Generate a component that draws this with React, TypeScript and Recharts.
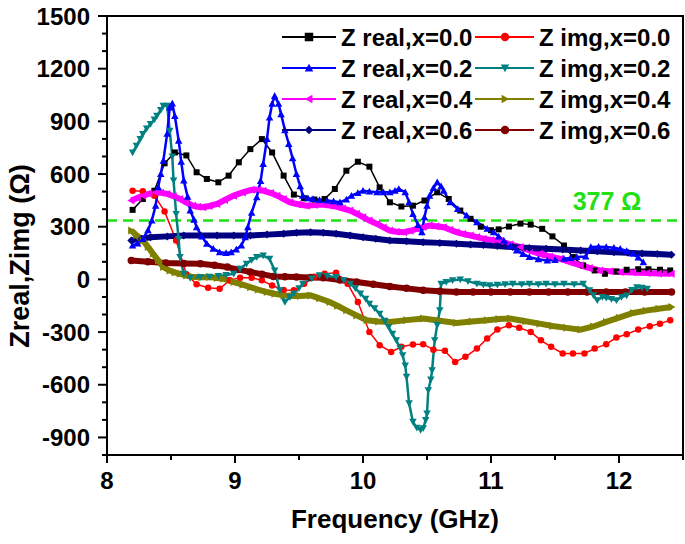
import React from 'react';
import { LineChart, Line, XAxis, YAxis, ReferenceLine, ReferenceArea } from 'recharts';

// ---------- data ----------
const zReal00Freq = [8.20, 8.28, 8.37, 8.45, 8.53, 8.62, 8.70, 8.78, 8.87, 8.95, 9.03, 9.12, 9.21, 9.29, 9.38, 9.46, 9.54, 9.62, 9.70, 9.78, 9.87, 9.96, 10.05, 10.13, 10.21, 10.30, 10.39, 10.48, 10.58, 10.67, 10.76, 10.84, 10.92, 11.00, 11.06, 11.14, 11.23, 11.31, 11.40, 11.48, 11.57, 11.64, 11.72, 11.81, 11.89, 11.98, 12.06, 12.15, 12.23, 12.32, 12.40];
const zReal00Val = [396, 458, 505, 661, 723, 706, 610, 572, 553, 591, 667, 742, 799, 723, 591, 483, 462, 455, 458, 515, 619, 670, 642, 524, 439, 415, 420, 449, 496, 458, 392, 345, 300, 280, 285, 301, 318, 312, 288, 245, 193, 127, 80, 51, 32, 45, 55, 58, 58, 55, 51];

const zImg00Freq = [8.20, 8.28, 8.37, 8.45, 8.54, 8.62, 8.70, 8.79, 8.88, 8.96, 9.04, 9.13, 9.21, 9.29, 9.38, 9.46, 9.54, 9.62, 9.70, 9.79, 9.88, 9.96, 10.05, 10.13, 10.22, 10.30, 10.39, 10.47, 10.55, 10.64, 10.72, 10.80, 10.89, 10.97, 11.05, 11.14, 11.22, 11.31, 11.39, 11.47, 11.56, 11.64, 11.73, 11.81, 11.90, 11.98, 12.06, 12.15, 12.24, 12.32, 12.40];
const zImg00Val = [505, 502, 477, 387, 222, 30, -28, -47, -53, -5, 10, 10, -5, -35, -60, -62, -25, 15, 32, 38, -25, -129, -299, -375, -413, -384, -371, -369, -400, -407, -470, -441, -394, -337, -286, -261, -275, -299, -347, -384, -422, -422, -422, -394, -369, -331, -312, -286, -267, -252, -233];

const zReal02Freq = [8.20, 8.24, 8.28, 8.32, 8.35, 8.38, 8.40, 8.42, 8.44, 8.47, 8.49, 8.51, 8.53, 8.56, 8.58, 8.60, 8.63, 8.65, 8.68, 8.70, 8.74, 8.78, 8.83, 8.88, 8.93, 8.97, 9.01, 9.05, 9.08, 9.10, 9.13, 9.17, 9.20, 9.22, 9.25, 9.27, 9.29, 9.31, 9.34, 9.36, 9.39, 9.42, 9.45, 9.48, 9.51, 9.53, 9.57, 9.61, 9.66, 9.72, 9.77, 9.82, 9.87, 9.91, 9.96, 10.00, 10.05, 10.11, 10.16, 10.21, 10.25, 10.28, 10.33, 10.36, 10.39, 10.43, 10.46, 10.48, 10.50, 10.52, 10.55, 10.58, 10.61, 10.63, 10.68, 10.74, 10.81, 10.89, 10.97, 11.02, 11.06, 11.10, 11.15, 11.20, 11.25, 11.30, 11.37, 11.44, 11.50, 11.57, 11.62, 11.67, 11.74, 11.78, 11.84, 11.90, 11.96, 12.01, 12.06, 12.11, 12.15, 12.19];
const zReal02Val = [193, 205, 230, 280, 335, 420, 525, 600, 676, 830, 979, 1002, 930, 790, 670, 563, 470, 392, 340, 297, 245, 203, 175, 155, 150, 155, 170, 193, 240, 297, 380, 468, 560, 657, 800, 922, 1000, 1045, 1000, 941, 850, 771, 690, 600, 530, 477, 462, 458, 452, 449, 445, 439, 455, 477, 492, 505, 500, 496, 496, 496, 505, 515, 496, 440, 373, 310, 269, 354, 420, 477, 520, 553, 530, 505, 439, 401, 364, 326, 288, 269, 245, 222, 192, 165, 145, 127, 115, 108, 110, 117, 122, 127, 130, 184, 186, 184, 180, 174, 162, 146, 125, 98];

const zImg02Freq = [8.20, 8.23, 8.26, 8.28, 8.31, 8.34, 8.37, 8.39, 8.42, 8.44, 8.47, 8.49, 8.51, 8.52, 8.54, 8.56, 8.57, 8.60, 8.65, 8.73, 8.80, 8.87, 8.93, 8.99, 9.04, 9.09, 9.13, 9.17, 9.22, 9.27, 9.31, 9.35, 9.39, 9.43, 9.46, 9.50, 9.53, 9.60, 9.66, 9.72, 9.79, 9.85, 9.90, 9.94, 9.98, 10.02, 10.05, 10.09, 10.13, 10.17, 10.20, 10.23, 10.26, 10.29, 10.31, 10.33, 10.34, 10.36, 10.39, 10.42, 10.45, 10.47, 10.49, 10.50, 10.51, 10.53, 10.54, 10.56, 10.58, 10.60, 10.61, 10.65, 10.70, 10.76, 10.82, 10.89, 10.94, 10.99, 11.05, 11.11, 11.17, 11.24, 11.30, 11.37, 11.43, 11.50, 11.57, 11.65, 11.72, 11.77, 11.80, 11.83, 11.87, 11.90, 11.94, 11.98, 12.02, 12.06, 12.10, 12.14, 12.18, 12.22];
const zImg02Val = [723, 761, 800, 828, 860, 885, 910, 932, 965, 989, 989, 847, 700, 563, 373, 230, 127, 32, 10, 13, 15, 20, 25, 32, 60, 89, 110, 127, 136, 117, 51, -62, -129, -100, -80, -50, -25, 5, 23, 20, 13, -5, -25, -50, -81, -110, -138, -165, -195, -235, -271, -310, -347, -390, -432, -490, -555, -706, -811, -845, -858, -848, -800, -763, -631, -570, -517, -347, -260, -176, -25, -15, -5, 0, -10, -25, -30, -34, -30, -28, -25, -28, -25, -28, -25, -28, -25, -28, -25, -62, -90, -119, -100, -105, -112, -119, -100, -91, -60, -44, -48, -53];

const zReal04Freq = [8.19, 8.24, 8.28, 8.33, 8.38, 8.42, 8.47, 8.52, 8.57, 8.62, 8.67, 8.71, 8.75, 8.80, 8.86, 8.92, 8.99, 9.06, 9.13, 9.18, 9.22, 9.28, 9.33, 9.38, 9.43, 9.49, 9.56, 9.62, 9.69, 9.74, 9.79, 9.84, 9.90, 9.95, 10.00, 10.05, 10.11, 10.16, 10.21, 10.26, 10.32, 10.37, 10.42, 10.47, 10.52, 10.57, 10.63, 10.68, 10.73, 10.78, 10.84, 10.89, 10.94, 11.00, 11.07, 11.15, 11.23, 11.30, 11.38, 11.46, 11.54, 11.62, 11.70, 11.77, 11.85, 11.93, 12.01, 12.11, 12.22, 12.31, 12.41];
const zReal04Val = [449, 465, 477, 488, 496, 494, 487, 474, 458, 438, 420, 414, 411, 418, 430, 452, 477, 495, 510, 510, 505, 492, 477, 458, 439, 428, 420, 423, 426, 421, 415, 404, 392, 374, 354, 335, 316, 296, 278, 271, 269, 277, 288, 298, 307, 303, 297, 283, 269, 259, 250, 241, 232, 225, 218, 200, 184, 165, 146, 131, 117, 98, 80, 65, 51, 46, 42, 39, 36, 34, 32];

const zReal06Freq = [8.19, 8.27, 8.34, 8.47, 8.60, 8.73, 8.86, 8.99, 9.12, 9.25, 9.38, 9.48, 9.59, 9.69, 9.79, 9.90, 10.00, 10.10, 10.21, 10.34, 10.47, 10.60, 10.73, 10.84, 10.94, 11.05, 11.17, 11.30, 11.43, 11.56, 11.70, 11.83, 11.96, 12.07, 12.18, 12.30, 12.41];
const zReal06Val = [222, 232, 240, 245, 250, 250, 250, 250, 250, 255, 260, 265, 269, 265, 260, 250, 240, 231, 222, 217, 212, 208, 203, 199, 196, 190, 184, 179, 174, 170, 165, 160, 155, 152, 148, 144, 140];

const zImg04Freq = [8.19, 8.23, 8.28, 8.32, 8.36, 8.40, 8.44, 8.49, 8.53, 8.57, 8.62, 8.67, 8.74, 8.80, 8.86, 8.91, 8.99, 9.06, 9.12, 9.18, 9.25, 9.31, 9.38, 9.45, 9.51, 9.59, 9.66, 9.74, 9.80, 9.87, 9.95, 10.03, 10.12, 10.21, 10.34, 10.47, 10.60, 10.73, 10.85, 10.97, 11.06, 11.15, 11.27, 11.38, 11.48, 11.59, 11.70, 11.80, 11.90, 12.00, 12.11, 12.21, 12.31, 12.41];
const zImg04Val = [278, 252, 222, 185, 146, 108, 70, 50, 40, 32, 22, 13, 12, 13, 8, 4, -15, -30, -44, -58, -72, -82, -91, -95, -95, -91, -108, -129, -150, -176, -205, -233, -240, -242, -232, -223, -236, -248, -240, -233, -226, -223, -238, -252, -265, -276, -286, -268, -242, -218, -191, -178, -167, -157];

const zImg06Freq = [8.19, 8.32, 8.46, 8.60, 8.73, 8.84, 8.94, 9.03, 9.12, 9.21, 9.30, 9.39, 9.48, 9.59, 9.69, 9.82, 9.95, 10.08, 10.21, 10.34, 10.47, 10.60, 10.73, 10.86, 11.00, 11.15, 11.30, 11.45, 11.60, 11.75, 11.90, 12.05, 12.20, 12.41];
const zImg06Val = [108, 100, 93, 91, 89, 80, 70, 56, 42, 30, 17, 15, 13, 11, 9, -3, -15, -28, -40, -51, -62, -67, -72, -72, -72, -72, -72, -72, -72, -72, -72, -72, -72, -72];

const impedanceRef = 335;
const impedanceLabel = '377 Ω';

const xTickValues = [8, 8.5, 9, 9.5, 10, 10.5, 11, 11.5, 12, 12.5];
const xMajorTicks = [8, 9, 10, 11, 12];
const yTickValues = [-1000, -900, -800, -700, -600, -500, -400, -300, -200, -100, 0, 100, 200, 300, 400, 500, 600, 700, 800, 900, 1000, 1100, 1200, 1300, 1400, 1500];
const yMajorTicks = [-900, -600, -300, 0, 300, 600, 900, 1200, 1500];

const seriesNames = ['Z real,x=0.0', 'Z img,x=0.0', 'Z real,x=0.2', 'Z img,x=0.2', 'Z real,x=0.4', 'Z img,x=0.4', 'Z real,x=0.6', 'Z img,x=0.6'];

// ---------- helpers ----------
const FONT = '"Liberation Sans", Arial, Helvetica, sans-serif';
const pairs = (f: number[], v: number[]) => f.map((x, i) => ({ f: x, v: v[i] }));

type Shape = 'square' | 'circle' | 'up' | 'down' | 'left' | 'right' | 'diamond';

function markerEl(shape: Shape, cx: number, cy: number, s: number, color: string, key?: any) {
  if (cx == null || cy == null || isNaN(cx) || isNaN(cy)) return <g key={key} />;
  const h = s / 2;
  switch (shape) {
    case 'square':
      return <rect key={key} x={cx - h} y={cy - h} width={s} height={s} fill={color} />;
    case 'circle':
      return <circle key={key} cx={cx} cy={cy} r={h} fill={color} />;
    case 'up':
      return <polygon key={key} points={`${cx},${cy - h} ${cx - h},${cy + h * 0.8} ${cx + h},${cy + h * 0.8}`} fill={color} />;
    case 'down':
      return <polygon key={key} points={`${cx},${cy + h} ${cx - h},${cy - h * 0.8} ${cx + h},${cy - h * 0.8}`} fill={color} />;
    case 'left':
      return <polygon key={key} points={`${cx - h},${cy} ${cx + h * 0.8},${cy - h} ${cx + h * 0.8},${cy + h}`} fill={color} />;
    case 'right':
      return <polygon key={key} points={`${cx + h},${cy} ${cx - h * 0.8},${cy - h} ${cx - h * 0.8},${cy + h}`} fill={color} />;
    case 'diamond':
      return <polygon key={key} points={`${cx},${cy - h} ${cx + h},${cy} ${cx},${cy + h} ${cx - h},${cy}`} fill={color} />;
  }
  return <g key={key} />;
}

const series = [
  { name: seriesNames[0], data: pairs(zReal00Freq, zReal00Val), color: '#000000', shape: 'square' as Shape, size: 6, width: 1.5 },
  { name: seriesNames[1], data: pairs(zImg00Freq, zImg00Val), color: '#ff0000', shape: 'circle' as Shape, size: 6.5, width: 1.5 },
  { name: seriesNames[2], data: pairs(zReal02Freq, zReal02Val), color: '#0000ff', shape: 'up' as Shape, size: 7.5, width: 2.5 },
  { name: seriesNames[3], data: pairs(zImg02Freq, zImg02Val), color: '#008080', shape: 'down' as Shape, size: 7.5, width: 2.5 },
  { name: seriesNames[4], data: pairs(zReal04Freq, zReal04Val), color: '#ff00ff', shape: 'left' as Shape, size: 8, width: 6 },
  { name: seriesNames[5], data: pairs(zImg04Freq, zImg04Val), color: '#808000', shape: 'right' as Shape, size: 8, width: 6 },
  { name: seriesNames[6], data: pairs(zReal06Freq, zReal06Val), color: '#000080', shape: 'diamond' as Shape, size: 8, width: 6 },
  { name: seriesNames[7], data: pairs(zImg06Freq, zImg06Val), color: '#800000', shape: 'circle' as Shape, size: 7.5, width: 6 },
];

const drawOrder = [0, 1, 4, 6, 7, 5, 3, 2];

const X_TICK_SIZE = 8;
const X_TICK_MARGIN = 9;
const Y_TICK_SIZE = 9;
const Y_TICK_MARGIN = 8;

const XTick = (props: any) => {
  const { x, y, payload } = props;
  const val = payload.value;
  const major = xMajorTicks.includes(val);
  const axisY = y - X_TICK_SIZE - X_TICK_MARGIN;
  return (
    <g>
      <line x1={x} x2={x} y1={axisY} y2={axisY + (major ? 8 : 5)} stroke="#000" strokeWidth={2} />
      {major && (
        <text x={x} y={y} dy="0.72em" textAnchor="middle" fontFamily={FONT} fontWeight="bold" fontSize={24} fill="#000">
          {val}
        </text>
      )}
    </g>
  );
};

const YTick = (props: any) => {
  const { x, y, payload } = props;
  const val = payload.value;
  const major = yMajorTicks.includes(val);
  const axisX = x + Y_TICK_SIZE + Y_TICK_MARGIN;
  return (
    <g>
      <line x1={axisX - (major ? 9 : 5)} x2={axisX} y1={y} y2={y} stroke="#000" strokeWidth={2} />
      {major && (
        <text x={x} y={y} dy="0.36em" textAnchor="end" fontFamily={FONT} fontWeight="bold" fontSize={24} fill="#000">
          {val}
        </text>
      )}
    </g>
  );
};

const XTitle = () => (
  <text x={395} y={528} textAnchor="middle" fontFamily={FONT} fontWeight="bold" fontSize={26} fill="#000">
    Frequency (GHz)
  </text>
);

const YTitle = () => (
  <text x={0} y={0} transform="translate(29,256) rotate(-90)" textAnchor="middle" fontFamily={FONT} fontWeight="bold" fontSize={27} fill="#000">
    Zreal,Zimg (Ω)
  </text>
);

const RefLabel = (props: any) => {
  const vb = props.viewBox || {};
  const right = (vb.x || 0) + (vb.width || 0);
  return (
    <text x={right - 76} y={(vb.y || 0) - 11} textAnchor="middle" fontFamily={FONT} fontWeight="bold" fontSize={25} fill="#22e011">
      {impedanceLabel}
    </text>
  );
};

const LegendBox = () => {
  const rows = [0, 1, 2, 3];
  const rowY = [19, 50, 81, 112];
  return (
    <svg width={405} height={130} style={{ position: 'absolute', left: 278, top: 18, overflow: 'visible' }}>
      {rows.map((r) =>
        [0, 1].map((c) => {
          const s = series[r * 2 + c];
          const y = rowY[r];
          const x0 = c === 0 ? 4 : 197;
          const x1 = c === 0 ? 58 : 256;
          const mx = c === 0 ? 31 : 227;
          const tx = c === 0 ? 63 : 261;
          return (
            <g key={`${r}-${c}`}>
              <line x1={x0} x2={x1} y1={y} y2={y} stroke={s.color} strokeWidth={2} />
              {markerEl(s.shape, mx, y, 8.5, s.color)}
              <text x={tx} y={y + 8.5} fontFamily={FONT} fontWeight="bold" fontSize={24} fill="#000">
                {s.name}
              </text>
            </g>
          );
        })
      )}
    </svg>
  );
};

export default function App() {
  return (
    <div style={{ position: 'absolute', left: 0, top: 0, width: 685, height: 544, background: '#fff' }}>
      <LineChart width={685} height={544} margin={{ top: 16, right: 2, bottom: 0, left: 0 }}>
        <XAxis
          type="number"
          dataKey="f"
          domain={[8, 12.5]}
          ticks={xTickValues}
          interval={0}
          allowDataOverflow
          height={89}
          tickSize={X_TICK_SIZE}
          tickMargin={X_TICK_MARGIN}
          tickLine={false}
          axisLine={{ stroke: '#000', strokeWidth: 2 }}
          tick={<XTick />}
          label={<XTitle />}
        />
        <YAxis
          type="number"
          domain={[-1000, 1500]}
          ticks={yTickValues}
          interval={0}
          allowDataOverflow
          width={107}
          tickSize={Y_TICK_SIZE}
          tickMargin={Y_TICK_MARGIN}
          tickLine={false}
          axisLine={{ stroke: '#000', strokeWidth: 2 }}
          tick={<YTick />}
          label={<YTitle />}
        />
        <ReferenceArea x1={8} x2={12.5} y1={-1000} y2={1500} fill="none" stroke="#000" strokeWidth={2} ifOverflow="visible" />
        <ReferenceLine y={impedanceRef} stroke="#22e011" strokeWidth={2.5} strokeDasharray="10 6" label={<RefLabel />} />
        {drawOrder.map((i) => {
          const s = series[i];
          return (
            <Line
              key={s.name}
              data={s.data}
              dataKey="v"
              name={s.name}
              type="linear"
              stroke={s.color}
              strokeWidth={s.width}
              isAnimationActive={false}
              dot={(p: any) => markerEl(s.shape, p.cx, p.cy, s.size, s.color, `${s.name}-${p.index}`)}
              activeDot={false}
            />
          );
        })}
      </LineChart>
      <LegendBox />
    </div>
  );
}
